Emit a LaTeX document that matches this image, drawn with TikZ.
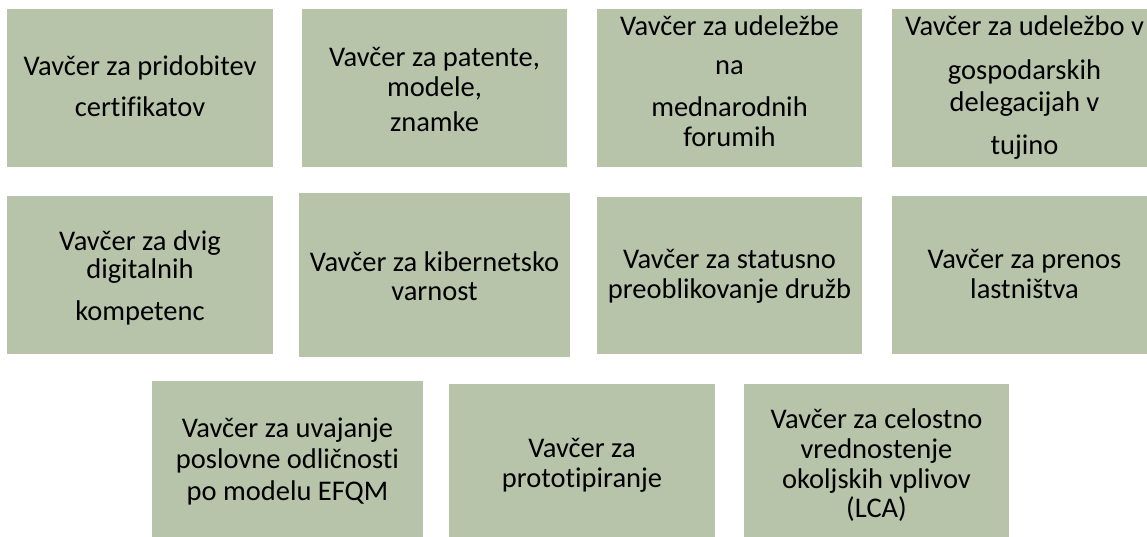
\documentclass[tikz,border=0pt]{standalone}
\usepackage{fontspec}
\setmainfont[Ligatures=CommonOff]{Carlito}
\usetikzlibrary{fit}
\definecolor{sage}{RGB}{184,196,170}
\begin{document}
\begin{tikzpicture}[x=1pt,y=-1pt,
  card/.style={fill=sage, draw=none, inner sep=0pt},
  lbl/.style={anchor=base, inner sep=0pt, font=\fontsize{28.5}{30}\selectfont, text=black}]
\useasboundingbox (0,0) rectangle (1147,537);
% row 1
\node[card, fit={(7,9) (273,167)}] (b1) {};
\node[card, fit={(302,9) (567,167)}] (b2) {};
\node[card, fit={(597,9) (862,167)}] (b3) {};
\node[card, fit={(892,9) (1157,167)}] (b4) {};
% row 2
\node[card, fit={(7,196) (273,354)}] (b5) {};
\node[card, fit={(299,193) (570,357)}] (b6) {};
\node[card, fit={(597,197) (862,354)}] (b7) {};
\node[card, fit={(892,196) (1157,354)}] (b8) {};
% row 3
\node[card, fit={(152,381) (423,547)}] (b9) {};
\node[card, fit={(449,384) (715,547)}] (b10) {};
\node[card, fit={(744,384) (1009,547)}] (b11) {};
% texts
\foreach \yy/\lbltxt [count=\i] in {76/{Vavčer za pridobitev},117/{certifikatov}}
  \node[lbl] (t1l\i) at (140,\yy) {\lbltxt};
\foreach \yy/\lbltxt [count=\i] in {67/{Vavčer za patente,},97/{modele,},132/{znamke}}
  \node[lbl] (t2l\i) at (434.5,\yy) {\lbltxt};
\foreach \yy/\lbltxt [count=\i] in {36/{Vavčer za udeležbe},75/{na},117/{mednarodnih},147/{forumih}}
  \node[lbl] (t3l\i) at (729.5,\yy) {\lbltxt};
\foreach \yy/\lbltxt [count=\i] in {36/{Vavčer za udeležbo v},80/{gospodarskih},112/{delegacijah v},155/{tujino}}
  \node[lbl] (t4l\i) at (1024.5,\yy) {\lbltxt};
\foreach \yy/\lbltxt [count=\i] in {250/{Vavčer za dvig},278/{digitalnih},320/{kompetenc}}
  \node[lbl] (t5l\i) at (140,\yy) {\lbltxt};
\foreach \yy/\lbltxt [count=\i] in {271/{Vavčer za kibernetsko},300/{varnost}}
  \node[lbl] (t6l\i) at (434.5,\yy) {\lbltxt};
\foreach \yy/\lbltxt [count=\i] in {268/{Vavčer za statusno},298/{preoblikovanje družb}}
  \node[lbl] (t7l\i) at (729.5,\yy) {\lbltxt};
\foreach \yy/\lbltxt [count=\i] in {268/{Vavčer za prenos},298/{lastništva}}
  \node[lbl] (t8l\i) at (1024.5,\yy) {\lbltxt};
\foreach \yy/\lbltxt [count=\i] in {437/{Vavčer za uvajanje},468/{poslovne odličnosti},500/{po modelu EFQM}}
  \node[lbl] (t9l\i) at (287.5,\yy) {\lbltxt};
\foreach \yy/\lbltxt [count=\i] in {457/{Vavčer za},487/{prototipiranje}}
  \node[lbl] (t10l\i) at (582,\yy) {\lbltxt};
\foreach \yy/\lbltxt [count=\i] in {428/{Vavčer za celostno},458/{vrednostenje},488/{okoljskih vplivov},517/{(LCA)}}
  \node[lbl] (t11l\i) at (876.5,\yy) {\lbltxt};
\end{tikzpicture}
\end{document}
